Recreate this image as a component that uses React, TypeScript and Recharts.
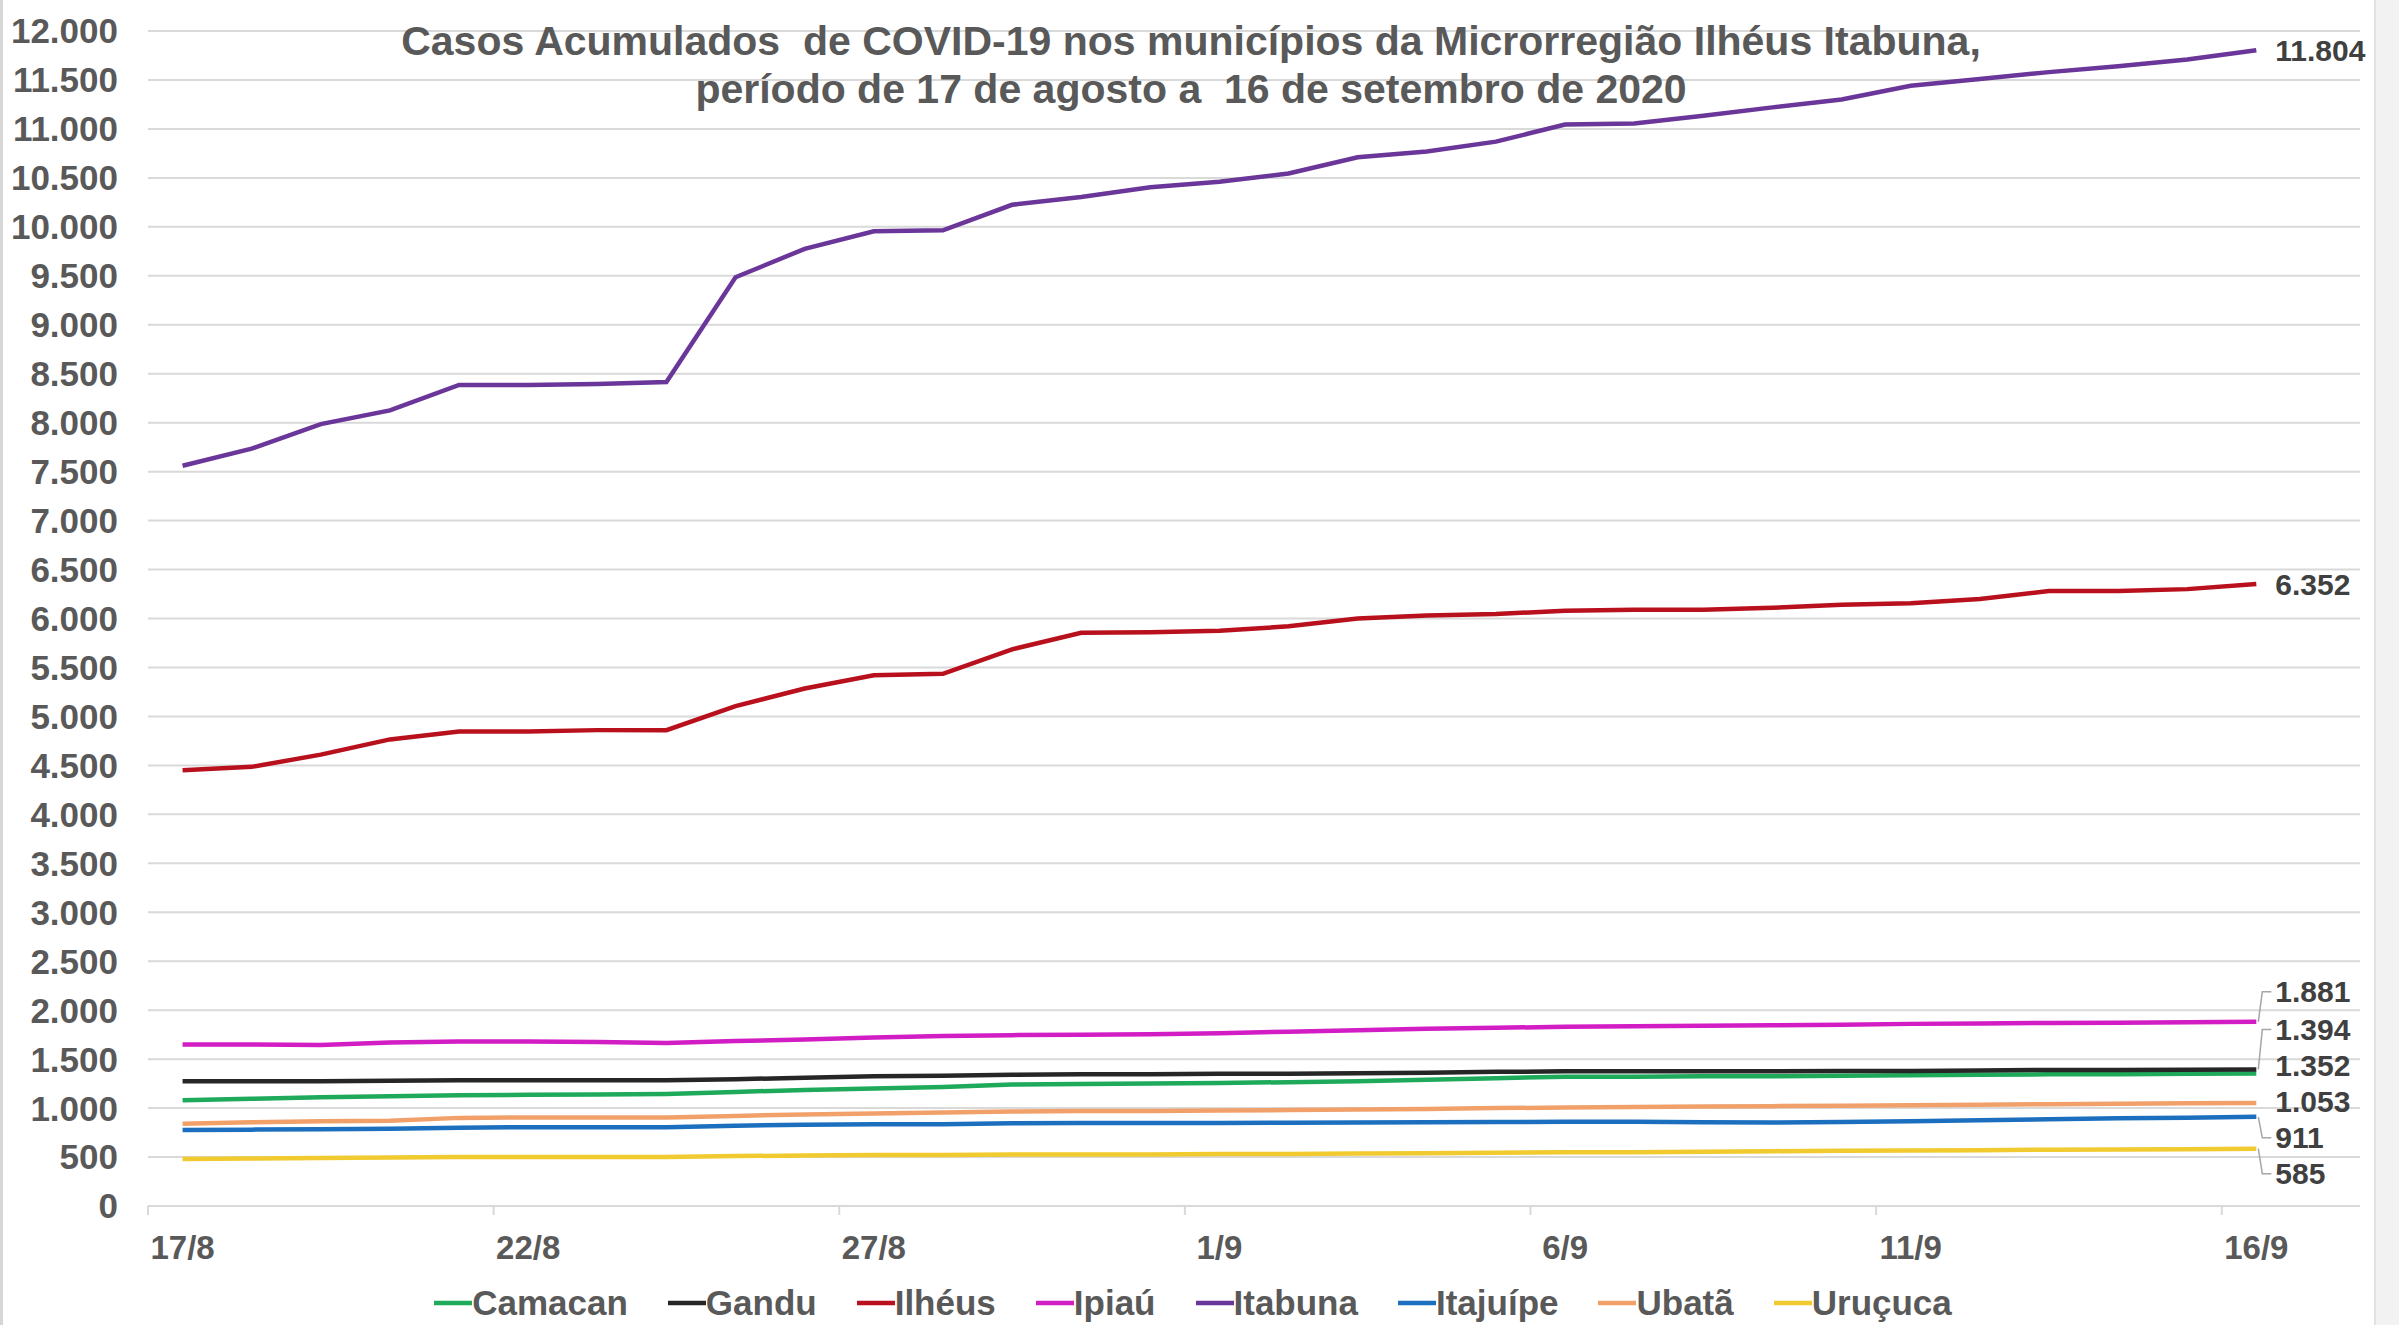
import React from 'react';
import { LineChart, Line, XAxis, YAxis, CartesianGrid, LabelList } from 'recharts';

// dias do período (17/8 a 16/9)
const days = [
  '17/8', '18/8', '19/8', '20/8', '21/8', '22/8', '23/8', '24/8', '25/8', '26/8',
  '27/8', '28/8', '29/8', '30/8', '31/8', '1/9', '2/9', '3/9', '4/9', '5/9',
  '6/9', '7/9', '8/9', '9/9', '10/9', '11/9', '12/9', '13/9', '14/9', '15/9', '16/9'
];

const yTicks = [
  0, 500, 1000, 1500, 2000, 2500, 3000, 3500, 4000, 4500, 5000, 5500, 6000,
  6500, 7000, 7500, 8000, 8500, 9000, 9500, 10000, 10500, 11000, 11500, 12000
];

const camacan = [1080, 1095, 1110, 1120, 1130, 1135, 1140, 1145, 1165, 1185, 1200, 1215, 1240, 1245, 1250, 1255, 1265, 1275, 1290, 1305, 1320, 1320, 1325, 1325, 1330, 1335, 1340, 1345, 1345, 1350, 1352];
const gandu = [1275, 1275, 1275, 1280, 1285, 1285, 1285, 1285, 1295, 1310, 1325, 1330, 1340, 1345, 1345, 1350, 1350, 1355, 1360, 1370, 1375, 1375, 1375, 1375, 1380, 1380, 1385, 1390, 1390, 1392, 1394];
const ilheus = [4450, 4485, 4610, 4765, 4845, 4845, 4860, 4860, 5105, 5285, 5420, 5435, 5685, 5855, 5860, 5875, 5920, 6000, 6030, 6045, 6080, 6090, 6090, 6110, 6140, 6155, 6200, 6280, 6280, 6300, 6352];
const ipiau = [1650, 1650, 1645, 1670, 1680, 1680, 1675, 1665, 1685, 1700, 1720, 1735, 1745, 1750, 1755, 1765, 1780, 1795, 1810, 1820, 1830, 1835, 1840, 1845, 1850, 1860, 1865, 1870, 1872, 1876, 1881];
const itabuna = [7560, 7735, 7985, 8125, 8385, 8385, 8395, 8415, 9485, 9775, 9955, 9965, 10225, 10305, 10405, 10460, 10545, 10710, 10770, 10870, 11045, 11055, 11135, 11220, 11300, 11440, 11510, 11580, 11640, 11710, 11804];
const itajuipe = [775, 780, 785, 790, 800, 805, 805, 805, 820, 830, 835, 835, 845, 848, 848, 848, 850, 852, 855, 858, 860, 860, 855, 852, 858, 865, 875, 885, 895, 902, 911];
const ubata = [840, 855, 865, 870, 900, 905, 905, 905, 920, 935, 945, 955, 965, 970, 970, 975, 980, 985, 990, 1000, 1005, 1010, 1015, 1020, 1025, 1030, 1035, 1040, 1045, 1050, 1053];
const urucuca = [480, 485, 490, 495, 500, 500, 500, 500, 510, 515, 520, 520, 525, 525, 525, 530, 530, 535, 540, 545, 550, 550, 555, 560, 565, 568, 570, 575, 578, 580, 585];

const series = [
  { name: 'Camacan', values: camacan, color: '#1EAA5A', labelDy: -8 },
  { name: 'Gandu', values: gandu, color: '#262626', labelDy: -40 },
  { name: 'Ilhéus', values: ilheus, color: '#B8101C', labelDy: 0 },
  { name: 'Ipiaú', values: ipiau, color: '#D21CC4', labelDy: -30 },
  { name: 'Itabuna', values: itabuna, color: '#6B3699', labelDy: 0 },
  { name: 'Itajuípe', values: itajuipe, color: '#1B6FBE', labelDy: 21 },
  { name: 'Ubatã', values: ubata, color: '#F2A06A', labelDy: -1 },
  { name: 'Uruçuca', values: urucuca, color: '#F0CA2E', labelDy: 25 }
];

const data = days.map((day, i) => {
  const row: any = { day };
  series.forEach((s) => { row[s.name] = s.values[i]; });
  return row;
});

const W = 2399;
const H = 1325;
const PLOT_TOP = 31;
const PLOT_BOTTOM = 1206;
const PLOT_LEFT = 148;
const PLOT_RIGHT = 2360;
const BAND = (PLOT_RIGHT - PLOT_LEFT) / 32;

const TEXT = '#595959';
const GRID = '#D9D9D9';
const FONT = "'Liberation Sans', Arial, sans-serif";

const fmt = (v: number) => String(v).replace(/\B(?=(\d{3})+(?!\d))/g, '.');

const XTick = (props: any) => {
  const { x, payload } = props;
  const tx = x - BAND / 2;
  return (
    <g>
      <line x1={tx} x2={tx} y1={PLOT_BOTTOM} y2={PLOT_BOTTOM + 9} stroke={GRID} strokeWidth={2} />
      <text x={x} y={PLOT_BOTTOM + 41} textAnchor="middle" dominantBaseline="central"
        fill={TEXT} fontSize={33} fontWeight="bold" fontFamily={FONT}>
        {payload.value}
      </text>
    </g>
  );
};

const endLabel = (dy: number) => (props: any) => {
  const { index, value } = props;
  if (index !== days.length - 1) return null;
  const x = props.x ?? props.viewBox?.x;
  const y = props.y ?? props.viewBox?.y;
  const ty = y + dy;
  return (
    <g>
      {Math.abs(dy) > 10 && (
        <polyline points={`${x + 2},${y} ${x + 6},${ty} ${x + 15},${ty}`}
          fill="none" stroke="#A6A6A6" strokeWidth={1.5} />
      )}
      <text x={x + 19} y={ty} dominantBaseline="central" fill="#404040"
        fontSize={30} fontWeight="bold" fontFamily={FONT}>
        {fmt(value)}
      </text>
    </g>
  );
};

export default function App() {
  return (
    <div style={{ position: 'absolute', left: 0, top: 0, width: W, height: H, background: '#fff', fontFamily: FONT, overflow: 'hidden' }}>
      <LineChart width={W} height={H} data={data}
        margin={{ top: PLOT_TOP, right: W - PLOT_RIGHT, bottom: 0, left: 0 }}>
        <CartesianGrid vertical={false} stroke={GRID} strokeWidth={2} />
        <XAxis dataKey="day" interval={4} height={H - PLOT_BOTTOM}
          padding={{ left: BAND / 2, right: BAND * 1.5 }}
          tickLine={false} axisLine={{ stroke: GRID, strokeWidth: 2 }}
          tick={<XTick />} />
        <YAxis domain={[0, 12000]} ticks={yTicks} interval={0} width={PLOT_LEFT}
          axisLine={false} tickLine={false} tickSize={6} tickMargin={24}
          tickFormatter={fmt}
          tick={{ fill: TEXT, fontSize: 35, fontWeight: 'bold', fontFamily: FONT }} />
        {series.map((s) => (
          <Line key={s.name} type="linear" dataKey={s.name} stroke={s.color}
            strokeWidth={4.5} dot={false} isAnimationActive={false}>
            <LabelList dataKey={s.name} content={endLabel(s.labelDy)} />
          </Line>
        ))}
      </LineChart>

      {/* título */}
      <div style={{ position: 'absolute', left: 0, top: 17, width: 2382, textAlign: 'center', color: TEXT, fontWeight: 'bold', fontSize: 41, lineHeight: '48px', whiteSpace: 'pre' }}>
        {'Casos Acumulados  de COVID-19 nos municípios da Microrregião Ilhéus Itabuna,\nperíodo de 17 de agosto a  16 de setembro de 2020'}
      </div>

      {/* legenda */}
      <div style={{ position: 'absolute', left: 0, top: 1282, width: 2386, display: 'flex', justifyContent: 'center', gap: 40 }}>
        {series.map((s) => (
          <div key={s.name} style={{ display: 'flex', alignItems: 'center' }}>
            <svg width={38} height={10}><line x1={0} x2={38} y1={5} y2={5} stroke={s.color} strokeWidth={4.5} /></svg>
            <span style={{ fontSize: 35, fontWeight: 'bold', color: TEXT, lineHeight: '42px' }}>{s.name}</span>
          </div>
        ))}
      </div>

      <div style={{ position: 'absolute', left: 0, top: 0, width: 3, height: H, background: '#D6D6D6' }} />
      <div style={{ position: 'absolute', left: 2374, top: 0, width: 25, height: H, background: '#F2F2F2', borderLeft: '2px solid #E2E2E2' }} />
    </div>
  );
}
